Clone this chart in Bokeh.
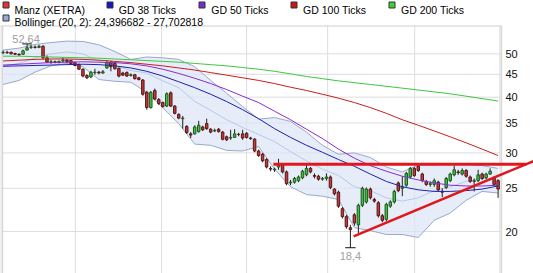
import math
from bokeh.plotting import figure
from bokeh.models import Label, ColumnDataSource, Range1d
from bokeh.core.properties import value
from bokeh.embed import file_html
from bokeh.resources import INLINE

# ---------------- data ----------------
opens = [50.3, 50.4, 50.4, 50.1, 49.9, 49.9, 51.0, 51.7, 51.8, 51.7,
         52.0, 49.0, 47.9, 48.0, 47.8, 48.2, 48.4, 48.3, 47.8, 47.3,
         46.2, 44.7, 44.4, 45.4, 45.5, 45.3, 46.5, 47.9, 47.6, 46.4,
         45.3, 45.4, 44.7, 44.9, 44.2, 43.7, 41.0, 37.9, 41.4, 39.5,
         38.9, 38.2, 40.9, 38.2, 36.6, 35.8, 34.4, 33.1, 33.1, 33.5,
         34.3, 34.9, 33.9, 33.6, 33.9, 33.4, 32.6, 32.4, 32.5, 33.0,
         33.1, 33.2, 32.4, 32.2, 30.3, 29.8, 29.0, 27.7, 27.5, 27.9,
         28.2, 27.2, 25.7, 25.8, 26.0, 26.4, 26.8, 27.7, 26.7, 26.6,
         26.2, 26.3, 26.5, 24.9, 24.5, 22.5, 21.6, 20.4, 21.8, 20.7,
         22.9, 23.3, 24.9, 23.6, 23.2, 21.7, 21.3, 22.8, 23.3, 25.7,
         25.0, 25.4, 26.5, 27.7, 28.0, 26.9, 25.9, 25.5, 25.5, 25.8,
         24.6, 25.1, 26.0, 26.8, 27.2, 26.9, 27.4, 26.5, 25.9, 26.0,
         26.9, 26.4, 26.9, 26.4, 26.0]
highs = [50.9, 50.8, 50.6, 50.3, 50.1, 51.1, 52.64, 52.3, 52.2, 52.4,
         52.3, 49.6, 48.5, 48.3, 48.3, 49.1, 48.7, 48.5, 48.0, 47.6,
         46.4, 45.0, 45.8, 46.3, 45.8, 46.0, 48.4, 48.2, 47.9, 46.6,
         45.6, 45.7, 45.2, 45.1, 44.4, 43.9, 41.3, 41.3, 41.8, 39.8,
         39.1, 41.0, 41.2, 38.4, 36.8, 36.3, 34.6, 33.4, 34.6, 35.4,
         34.5, 35.8, 34.1, 34.0, 34.1, 33.6, 32.8, 33.8, 33.9, 33.3,
         33.8, 33.4, 32.6, 32.4, 30.5, 30.0, 29.2, 28.0, 27.8, 29.1,
         28.4, 27.4, 26.1, 26.5, 26.7, 27.5, 28.3, 27.9, 27.0, 26.8,
         26.5, 27.0, 26.7, 25.0, 24.7, 22.7, 21.8, 20.7, 22.0, 23.1,
         25.2, 25.1, 25.1, 23.8, 23.4, 21.9, 23.2, 23.5, 24.8, 25.9,
         26.6, 27.2, 27.9, 27.9, 28.4, 27.1, 26.1, 25.9, 26.3, 26.0,
         25.0, 26.5, 27.1, 28.1, 27.5, 27.7, 27.6, 26.7, 26.3, 27.5,
         27.1, 27.1, 27.7, 26.6, 26.2]
lows = [49.9, 50.0, 49.9, 49.8, 49.6, 49.8, 50.9, 51.3, 51.4, 51.5,
        48.6, 47.7, 47.5, 47.6, 47.6, 47.8, 47.8, 47.4, 46.9, 46.0,
        44.3, 43.9, 44.1, 44.9, 45.0, 45.1, 46.3, 45.7, 46.1, 44.3,
        44.6, 44.4, 44.5, 43.8, 43.6, 40.3, 37.5, 37.7, 39.4, 38.4,
        37.9, 38.0, 38.0, 36.6, 35.7, 34.0, 33.1, 32.4, 33.0, 33.3,
        33.6, 33.8, 33.2, 33.4, 33.3, 32.0, 31.9, 32.1, 32.4, 32.7,
        32.1, 32.3, 32.1, 30.1, 29.4, 28.6, 27.7, 27.3, 27.2, 27.5,
        27.0, 25.4, 25.4, 25.6, 25.8, 26.2, 26.6, 27.0, 26.3, 26.0,
        26.0, 26.0, 24.9, 24.1, 22.6, 21.4, 20.3, 18.4, 20.6, 19.8,
        22.7, 23.1, 23.6, 23.2, 21.5, 21.0, 21.1, 22.6, 23.1, 24.5,
        24.0, 25.2, 26.3, 26.5, 27.2, 25.8, 25.3, 25.2, 25.2, 24.6,
        23.9, 24.9, 25.8, 26.6, 26.8, 26.7, 26.4, 25.7, 24.6, 25.8,
        26.1, 26.2, 26.8, 25.3, 23.8]
closes = [50.4, 50.3, 50.0, 49.9, 49.7, 50.8, 51.6, 51.8, 51.7, 52.0,
          49.0, 47.9, 48.0, 47.9, 48.1, 48.4, 48.0, 47.6, 47.1, 46.2,
          44.6, 44.2, 45.5, 45.5, 45.3, 45.6, 47.8, 46.8, 46.3, 44.6,
          44.8, 44.6, 44.9, 44.0, 43.8, 40.6, 37.9, 41.0, 39.6, 38.7,
          38.1, 40.7, 38.2, 36.8, 35.9, 35.9, 33.3, 32.9, 34.3, 34.6,
          33.8, 34.0, 33.4, 33.7, 33.5, 32.2, 32.1, 32.5, 33.1, 33.0,
          32.4, 32.5, 32.3, 30.3, 29.6, 28.8, 27.9, 27.6, 27.6, 28.1,
          27.2, 25.6, 25.8, 26.3, 26.5, 27.3, 27.7, 27.2, 26.6, 26.2,
          26.3, 26.5, 25.1, 24.3, 22.8, 21.6, 20.5, 20.2, 20.9, 22.9,
          25.0, 24.9, 23.8, 23.4, 21.7, 21.2, 23.0, 23.3, 24.6, 24.7,
          25.2, 27.0, 27.7, 26.7, 27.4, 26.0, 25.5, 25.6, 26.0, 24.8,
          24.5, 26.3, 26.9, 27.5, 27.1, 27.4, 26.6, 25.9, 26.0, 26.8,
          26.3, 26.9, 27.3, 25.5, 24.9]
idx = list(range(len(closes)))

# indicator sample positions (candle index)
ma_idx = [0, 4, 8, 12, 16, 20, 24, 28, 32, 36, 40, 44, 48, 52, 56, 60,
          64, 68, 72, 76, 80, 84, 88, 92, 96, 100, 104, 108, 112, 116, 120, 124]
gd38 = [46.9, 47.0, 47.1, 47.2, 47.3, 47.4, 47.3, 47.0, 46.5, 45.7, 44.6, 43.3, 42.0, 40.6, 39.1, 37.5,
        35.8, 34.0, 32.5, 31.2, 30.1, 29.0, 28.0, 26.9, 25.9, 25.2, 24.8, 24.6, 24.6, 24.7, 24.9, 25.3]
gd50 = [47.2, 47.4, 47.6, 47.8, 47.9, 48.0, 47.9, 47.8, 47.5, 47.0, 46.2, 45.2, 44.1, 42.9, 41.6, 40.2,
        38.9, 37.2, 35.6, 33.9, 32.3, 30.6, 29.2, 28.1, 27.3, 26.6, 26.1, 25.7, 25.4, 25.3, 25.3, 25.4]
gd100 = [48.2, 48.4, 48.6, 48.7, 48.7, 48.6, 48.4, 48.1, 47.8, 47.4, 47.0, 46.5, 46.0, 45.4, 44.8, 44.2,
         43.6, 42.9, 42.1, 41.4, 40.6, 39.8, 38.9, 37.9, 36.8, 35.6, 34.6, 33.6, 32.6, 31.6, 30.6, 29.6]
gd200 = [49.4, 49.4, 49.3, 49.2, 49.1, 49.0, 48.9, 48.7, 48.5, 48.3, 48.1, 47.9, 47.6, 47.3, 47.0, 46.6,
         46.2, 45.7, 45.1, 44.5, 44.0, 43.5, 43.1, 42.7, 42.3, 41.9, 41.5, 41.1, 40.7, 40.2, 39.7, 39.2]
bb_upper = [51.0, 51.5, 52.5, 53.0, 53.4, 53.3, 52.4, 50.6, 48.6, 49.2, 49.0, 48.6, 46.8, 43.6, 40.8, 38.1,
            35.7, 36.0, 35.3, 33.4, 31.2, 29.8, 30.0, 29.3, 27.9, 27.2, 28.2, 28.2, 28.4, 28.3, 28.1, 27.702818]
bb_mid = [46.9, 47.6, 49.0, 50.0, 50.5, 50.0, 48.1, 47.0, 45.9, 45.3, 43.5, 42.0, 39.1, 37.4, 35.6, 34.2,
          33.0, 31.8, 30.2, 28.8, 27.6, 26.7, 25.2, 24.7, 23.8, 23.4, 23.8, 24.7, 25.2, 25.9, 26.35, 26.05]
bb_lower = [42.7, 43.6, 45.5, 47.0, 47.6, 46.8, 43.8, 43.4, 43.2, 41.0, 37.9, 34.9, 31.4, 31.2, 30.4, 30.3,
            31.0, 27.6, 25.2, 24.2, 24.0, 23.6, 20.4, 20.1, 19.7, 19.7, 19.4, 21.2, 22.0, 23.5, 24.6, 24.396682]

price_ticks = [20, 25, 30, 35, 40, 45, 50]
month_ticks = [18.1, 39.7, 61.0, 81.3, 103.1]

trend_flat_x = [67.7, 131.0]
trend_flat_y = [28.3, 28.3]
trend_rise_x = [87.8, 133.0]
trend_rise_y = [19.5, 28.8]

series_names = ["Manz (XETRA)", "GD 38 Ticks", "GD 50 Ticks", "GD 100 Ticks", "GD 200 Ticks"]
bb_name = "Bollinger (20, 2)"

# ---------------- styling / layout ----------------
FONT = "Liberation Sans"
C_UP, C_UP_LINE = "#3fbf3f", "#1d5a1d"
C_DN, C_DN_LINE = "#c03a3a", "#561818"
C_GD38, C_GD50, C_GD100, C_GD200 = "#2020aa", "#8a2ccf", "#c81e1e", "#3cc83c"
C_BB_FILL, C_BB_LINE, C_BB_MID = "#dce5f7", "#98a8ca", "#b4c8ea"
C_TREND = "#e2161c"
C_GRID = "#dddddd"
C_FRAME = "#d0d0d0"

W, H = 533, 273
PRICE_TOP_PX, PRICE_BOT_PX = 26, 273        # vertical extent of the price area
P_TOP, P_BOT = 57.58, 16.11                  # prices at those pixel rows
LN_T, LN_B = math.log(P_TOP), math.log(P_BOT)
PX_PER_CANDLE = 3.992
X0 = -0.651                                  # candle index at the left canvas edge
X1 = X0 + W / PX_PER_CANDLE


def px_to_idx(px):
    return X0 + px / PX_PER_CANDLE


def py_to_price(py):
    return math.exp(LN_T - (py - PRICE_TOP_PX) * (LN_T - LN_B) / (PRICE_BOT_PX - PRICE_TOP_PX))


PLOT_LEFT_IDX = px_to_idx(2.2)
PLOT_RIGHT_IDX = px_to_idx(499.5)
LABEL_IDX = px_to_idx(505)
Y_TOP_EDGE = py_to_price(25.5)
Y_BOTTOM = py_to_price(H)


def de(v, nd):
    s = f"{v:.{nd}f}"
    if nd == 2:
        s = s.rstrip("0").rstrip(".")
    return s.replace(".", ",")


p = figure(width=W, height=H, output_backend="svg", toolbar_location=None,
           x_range=Range1d(X0, X1), y_range=Range1d(Y_BOTTOM, py_to_price(0)),
           y_axis_type="log", x_axis_location=None, y_axis_location=None,
           min_border_left=0, min_border_right=0, min_border_top=0, min_border_bottom=0,
           outline_line_color=None, background_fill_color="white",
           border_fill_color="white", title=None)
p.grid.visible = False

# grid lines (only over the price area)
n = len(price_ticks)
p.segment(x0=[PLOT_LEFT_IDX] * n, y0=price_ticks, x1=[PLOT_RIGHT_IDX] * n, y1=price_ticks,
          line_color=C_GRID, line_width=1, level="underlay")
m = len(month_ticks)
p.segment(x0=month_ticks, y0=[Y_BOTTOM] * m, x1=month_ticks, y1=[Y_TOP_EDGE] * m,
          line_color=C_GRID, line_width=1, level="underlay")

# frame edges (double lines on both sides, line on top)
edge_x = [px_to_idx(0.5), px_to_idx(2.2), px_to_idx(499.5), px_to_idx(501.2)]
p.segment(x0=edge_x, y0=[Y_BOTTOM] * 4, x1=edge_x, y1=[Y_TOP_EDGE] * 4,
          line_color=C_FRAME, line_width=1, level="underlay")
p.segment(x0=[X0], y0=[Y_TOP_EDGE], x1=[px_to_idx(501.2)], y1=[Y_TOP_EDGE],
          line_color=C_FRAME, line_width=1, level="underlay")

# price labels on the right
p.text(x=[LABEL_IDX] * n, y=price_ticks, text=[str(t) for t in price_ticks],
       text_font=value(FONT), text_font_size=value("11px"), text_color="#111111",
       text_align="left", text_baseline="middle")

# Bollinger band
p.varea(x=ma_idx, y1=bb_lower, y2=bb_upper, fill_color=C_BB_FILL, fill_alpha=0.7)
p.line(ma_idx, bb_upper, line_color=C_BB_LINE, line_width=1)
p.line(ma_idx, bb_lower, line_color=C_BB_LINE, line_width=1)
p.line(ma_idx, bb_mid, line_color=C_BB_MID, line_width=1)

# candles
tops = [max(o, c) for o, c in zip(opens, closes)]
bots = [min(o, c) for o, c in zip(opens, closes)]
fills = [C_UP if c > o else C_DN for o, c in zip(opens, closes)]
edges = [C_UP_LINE if c > o else C_DN_LINE for o, c in zip(opens, closes)]
src = ColumnDataSource(dict(x=idx, h=highs, l=lows, t=tops, b=bots, f=fills, e=edges))
p.segment(x0="x", y0="h", x1="x", y1="l", source=src, line_color="#1e1e1e", line_width=1)
p.vbar(x="x", width=0.62, top="t", bottom="b", source=src, fill_color="f", line_color="e", line_width=1)

# moving averages
p.line(ma_idx, gd200, line_color=C_GD200, line_width=1)
p.line(ma_idx, gd100, line_color=C_GD100, line_width=1)
p.line(ma_idx, gd50, line_color=C_GD50, line_width=1)
p.line(ma_idx, gd38, line_color=C_GD38, line_width=1)

# extreme markers and labels
imax = highs.index(max(highs))
imin = lows.index(min(lows))
p.segment(x0=[imax - 1.2, imin - 1.3], y0=[highs[imax], lows[imin]],
          x1=[imax + 1.2, imin + 1.3], y1=[highs[imax], lows[imin]],
          line_color="#111111", line_width=1)
p.add_layout(Label(x=imax, y=highs[imax], text=de(highs[imax], 2), text_align="center",
                   text_baseline="alphabetic", x_offset=-1, y_offset=5, text_color="#a0a0a0",
                   text_font=FONT, text_font_size="11px"))
p.add_layout(Label(x=imin, y=lows[imin], text=de(lows[imin], 2), text_align="center",
                   text_baseline="top", y_offset=-4, text_color="#a0a0a0",
                   text_font=FONT, text_font_size="11px"))

# trend lines
p.line(trend_flat_x, trend_flat_y, line_color=C_TREND, line_width=3)
p.line(trend_rise_x, trend_rise_y, line_color=C_TREND, line_width=2.5)

# ---------------- legend (top strip) ----------------
leg_colors = ["#e43434", "#1616c8", "#7a28d8", "#d01414", "#3cd23c", "#9aaad2"]
leg_sq_px = [2.5, 106.5, 198.5, 290.5, 388.5, 2.5]
leg_sq_top = [1.5] * 5 + [14.5]
leg_tx_px = [14, 118.3, 210.8, 302.6, 400.5, 14]
leg_tx_base = [9.8] * 5 + [21.3]
bb_text = f"{bb_name}: {de(bb_lower[-1], 6)} - {de(bb_upper[-1], 6)}"

p.quad(left=[px_to_idx(x) for x in leg_sq_px], right=[px_to_idx(x + 6) for x in leg_sq_px],
       top=[py_to_price(y) for y in leg_sq_top], bottom=[py_to_price(y + 6) for y in leg_sq_top],
       fill_color=leg_colors, line_color="#333333", line_width=1)
p.text(x=[px_to_idx(x) for x in leg_tx_px], y=[py_to_price(y) for y in leg_tx_base],
       text=series_names + [bb_text],
       text_font=value(FONT), text_font_size=value("10.5px"), text_color="#000000",
       text_align="left", text_baseline="alphabetic")

open("out.html", "w").write(file_html(p, INLINE))
